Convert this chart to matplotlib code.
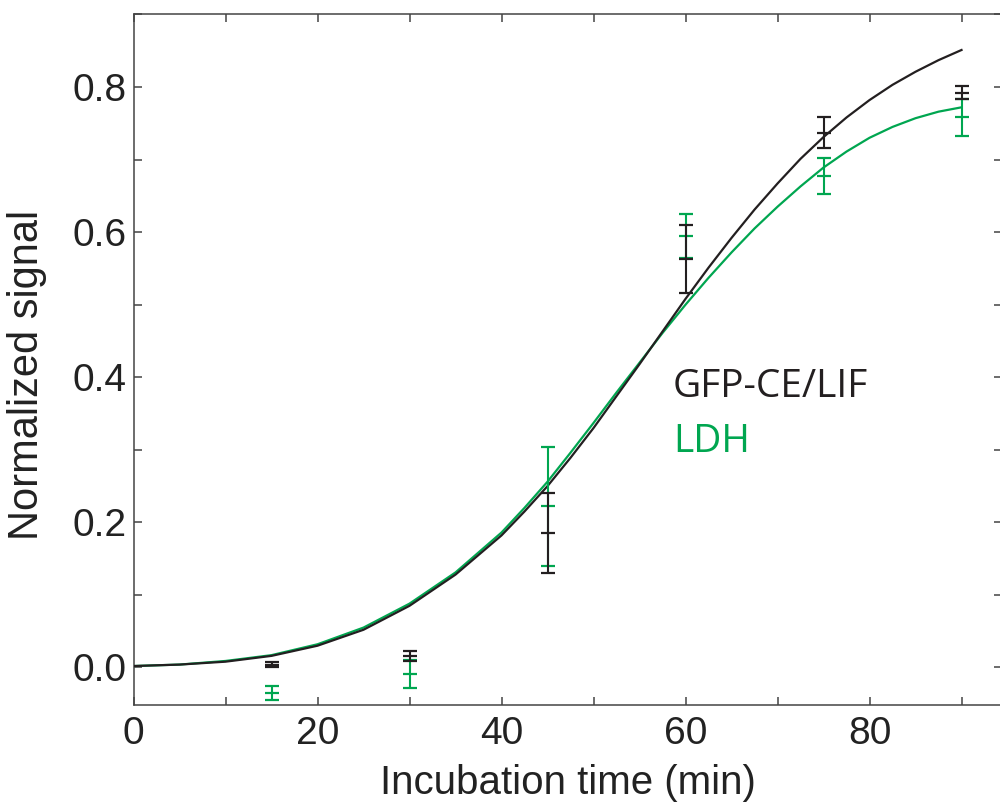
import numpy as np
import matplotlib
matplotlib.use('Agg')
import matplotlib.pyplot as plt
from matplotlib.ticker import MultipleLocator

# measured points (min)
times = [15, 30, 45, 60, 75, 90]
gfpMean = [0.004, 0.016, 0.185, 0.563, 0.737, 0.792]
gfpErr = [0.004, 0.007, 0.055, 0.047, 0.021, 0.009]
ldhMean = [-0.035, -0.009, 0.222, 0.595, 0.677, 0.758]
ldhErr = [0.010, 0.019, 0.082, 0.030, 0.025, 0.025]

# fitted curves (every 5 min, then every 2.5 min)
curveTimes = [0, 5, 10, 15, 20, 25, 30, 35, 40, 42.5, 45, 47.5, 50, 52.5, 55, 57.5,
              60, 62.5, 65, 67.5, 70, 72.5, 75, 77.5, 80, 82.5, 85, 87.5, 90]
gfpCurve = [0.002, 0.004, 0.008, 0.016, 0.030, 0.052, 0.085, 0.128, 0.182, 0.215,
            0.250, 0.289, 0.330, 0.374, 0.418, 0.463, 0.508, 0.551, 0.592, 0.631,
            0.667, 0.701, 0.731, 0.758, 0.782, 0.803, 0.821, 0.837, 0.851]
ldhCurve = [0.002, 0.004, 0.009, 0.017, 0.032, 0.055, 0.088, 0.131, 0.186, 0.220,
            0.256, 0.296, 0.337, 0.379, 0.420, 0.461, 0.500, 0.537, 0.572, 0.605,
            0.635, 0.663, 0.689, 0.711, 0.730, 0.745, 0.757, 0.766, 0.772]

seriesNames = ['GFP-CE/LIF', 'LDH']
black = '#231f20'
green = '#00a650'
spineColor = '#444444'

plt.rcParams['font.family'] = ['Liberation Sans', 'DejaVu Sans']

fig = plt.figure(figsize=(10, 8.1), dpi=100)
ax = fig.add_axes([0.1335, 1 - 705 / 810, 0.8685, (705 - 14) / 810])

# curves
ax.plot(curveTimes, gfpCurve, color=black, lw=1.6, zorder=3)
ax.plot(curveTimes, ldhCurve, color=green, lw=1.6, zorder=2)

# error bars with dash markers
ax.errorbar(times, ldhMean, yerr=ldhErr, fmt='_', color=green, ms=10, mew=1.6,
            elinewidth=1.5, capsize=5, capthick=1.5, zorder=4)
ax.errorbar(times, gfpMean, yerr=gfpErr, fmt='_', color=black, ms=10, mew=1.6,
            elinewidth=1.5, capsize=5, capthick=1.5, zorder=5)

ax.set_xlim(0, 94.4)
ax.set_ylim(-0.0517, 0.9006)

ax.xaxis.set_major_locator(MultipleLocator(20))
ax.xaxis.set_minor_locator(MultipleLocator(10))
ax.yaxis.set_major_locator(MultipleLocator(0.2))
ax.yaxis.set_minor_locator(MultipleLocator(0.1))
ax.yaxis.set_major_formatter(matplotlib.ticker.FormatStrFormatter('%.1f'))

ax.tick_params(which='both', direction='in', top=True, right=True, length=6,
               width=1.1, color=spineColor, labelsize=28, colors='#222222')
ax.tick_params(axis='x', which='major', pad=8)
ax.tick_params(axis='y', which='major', pad=5)
for sp in ax.spines.values():
    sp.set_color(spineColor)
    sp.set_linewidth(1.1)

ax.set_xlabel('Incubation time (min)', fontsize=29, color='#222222')
ax.set_ylabel('Normalized signal', fontsize=30, color='#222222')
ax.xaxis.set_label_coords(0.5, -0.085)
ax.yaxis.set_label_coords(-0.10, 0.4776)

# legend as plain coloured text
ax.text(0.621, 0.446, seriesNames[0], transform=ax.transAxes, fontsize=28,
        color=black, family=['Open Sans', 'DejaVu Sans'], va='baseline')
ax.text(0.621, 0.366, seriesNames[1], transform=ax.transAxes, fontsize=28,
        color=green, family=['Open Sans', 'DejaVu Sans'], va='baseline')

fig.savefig('out.png', dpi=100)
